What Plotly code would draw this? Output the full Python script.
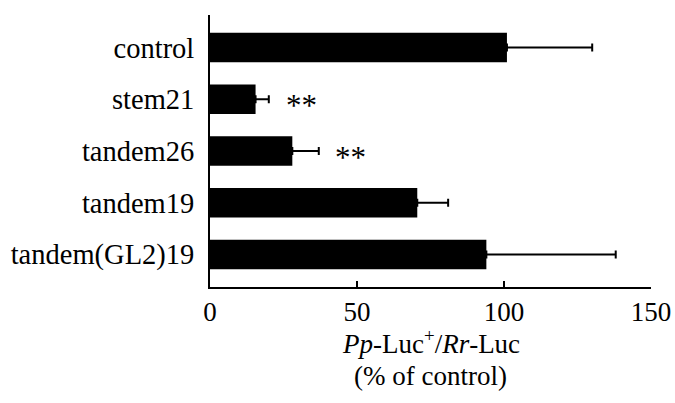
import plotly.graph_objects as go

categories = ["control", "stem21", "tandem26", "tandem19", "tandem(GL2)19"]
values = [101, 15.5, 28, 70.5, 94]
errors = [29, 4.5, 9, 10.5, 44]
significance = ["", "**", "**", "", ""]
x_ticks = [0, 50, 100, 150]

FONT = "Liberation Serif, Times New Roman, serif"

fig = go.Figure()
fig.add_trace(go.Bar(
    y=categories, x=values, orientation="h",
    marker=dict(color="black", line=dict(width=0)),
    width=0.57,
    error_x=dict(type="data", array=errors, arrayminus=[0]*len(errors),
                 symmetric=False, color="black", thickness=2, width=4),
))

for cat, v, e, s in zip(categories, values, errors, significance):
    if s:
        fig.add_annotation(x=v + e + 5.0, y=cat, text=s, showarrow=False,
                           xanchor="left", yanchor="middle", yshift=-6,
                           font=dict(family=FONT, size=31, color="black"))

fig.add_annotation(xref="paper", yref="paper", x=0.5, y=-55/272,
                   text="<i>Pp</i>-Luc<sup>+</sup>/<i>Rr</i>-Luc", showarrow=False,
                   xanchor="center", yanchor="middle",
                   font=dict(family=FONT, size=27, color="black"))
fig.add_annotation(xref="paper", yref="paper", x=0.5, y=-89/272,
                   text="(% of control)", showarrow=False,
                   xanchor="center", yanchor="middle",
                   font=dict(family=FONT, size=27, color="black"))

fig.update_layout(
    width=675, height=403,
    margin=dict(l=210, r=24, t=15, b=116, autoexpand=False),
    plot_bgcolor="white", paper_bgcolor="white",
    showlegend=False,
    font=dict(family=FONT, size=27, color="black"),
)
fig.update_xaxes(range=[0, 150], tickvals=x_ticks, ticktext=[str(t) for t in x_ticks],
                 showline=True, linecolor="black", linewidth=2,
                 ticks="inside", ticklen=6, tickwidth=2, tickcolor="black",
                 showgrid=False, zeroline=False, ticklabelstandoff=0,
                 automargin=False, ticklabeloverflow="allow",
                 tickfont=dict(family=FONT, size=27))
fig.update_yaxes(range=[4.63, -0.63], showline=True, linecolor="black", linewidth=2,
                 ticks="", showgrid=False, zeroline=False, ticklabelstandoff=8,
                 automargin=False, tickfont=dict(family=FONT, size=28.5))

fig.write_html("out.html")
